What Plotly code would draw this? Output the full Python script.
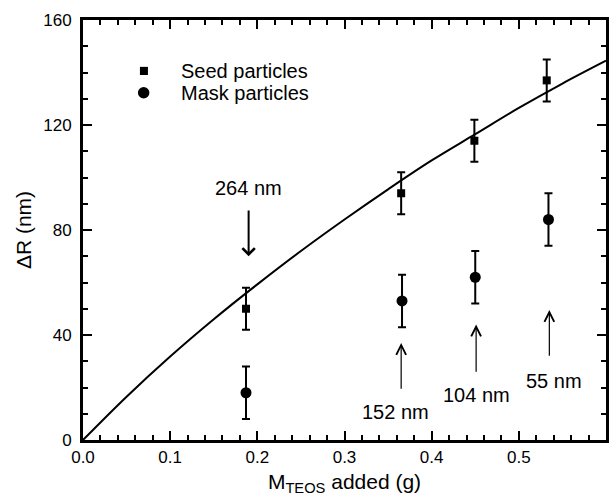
import plotly.graph_objects as go

# Data
seed_x = [0.187, 0.365, 0.449, 0.532]
seed_y = [50, 94, 114, 137]
seed_err = [8, 8, 8, 8]

mask_x = [0.187, 0.366, 0.450, 0.534]
mask_y = [18, 53, 62, 84]
mask_err = [10, 10, 10, 10]

fit_x = [0, 0.05, 0.1, 0.15, 0.2, 0.25, 0.3, 0.35, 0.4, 0.45, 0.5, 0.55, 0.6]
fit_y = [0, 16.5, 31.8, 46, 59.3, 72, 84, 95.5, 106.5, 116.5, 126.5, 135.8, 144.5]

# arrow annotations: label, arrow x, tail y, head y, text x, text y
arrow_labels = ["264 nm", "152 nm", "104 nm", "55 nm"]
arrow_x = [0.19, 0.365, 0.451, 0.535]
arrow_tail = [88, 19, 25.4, 31.5]
arrow_head = [70, 37, 44, 49.5]
text_x = [0.19, 0.359, 0.452, 0.540]
text_y = [96, 10.8, 17.1, 22.6]

# legend (drawn in data coordinates of the plot)
legend_names = ["Seed particles", "Mask particles"]
legend_sym_x = [0.0699, 0.0696]
legend_y = [140.6, 132.3]
legend_text_x = 0.1107

FONT = "Arial, Liberation Sans, sans-serif"

fig = go.Figure()
fig.add_trace(go.Scatter(x=fit_x, y=fit_y, mode="lines", line=dict(color="black", width=2, shape="spline"),
                         showlegend=False, hoverinfo="skip"))
fig.add_trace(go.Scatter(x=seed_x, y=seed_y, mode="markers", name=legend_names[0], showlegend=False,
                         marker=dict(symbol="square", size=8, color="black"),
                         error_y=dict(type="data", array=seed_err, color="black", thickness=2, width=4)))
fig.add_trace(go.Scatter(x=mask_x, y=mask_y, mode="markers", name=legend_names[1], showlegend=False,
                         marker=dict(symbol="circle", size=11, color="black"),
                         error_y=dict(type="data", array=mask_err, color="black", thickness=2, width=4)))

# manual legend
sq_dx, sq_dy = 0.0046, 1.55
ci_dx, ci_dy = 0.0066, 2.2
fig.add_shape(type="rect", xref="x", yref="y",
              x0=legend_sym_x[0] - sq_dx, x1=legend_sym_x[0] + sq_dx,
              y0=legend_y[0] - sq_dy, y1=legend_y[0] + sq_dy,
              fillcolor="black", line=dict(width=0))
fig.add_shape(type="circle", xref="x", yref="y",
              x0=legend_sym_x[1] - ci_dx, x1=legend_sym_x[1] + ci_dx,
              y0=legend_y[1] - ci_dy, y1=legend_y[1] + ci_dy,
              fillcolor="black", line=dict(width=0))
for name, ly in zip(legend_names, legend_y):
    fig.add_annotation(x=legend_text_x, y=ly, xref="x", yref="y", text=name, showarrow=False,
                       xanchor="left", yanchor="middle", font=dict(family=FONT, size=20, color="black"))

for i, lab in enumerate(arrow_labels):
    thick = i == 0
    fig.add_annotation(x=arrow_x[i], y=arrow_head[i], ax=arrow_x[i], ay=arrow_tail[i],
                       xref="x", yref="y", axref="x", ayref="y", text="", showarrow=True,
                       arrowhead=4 if thick else 5, arrowsize=1.2 if thick else 1.6,
                       arrowwidth=2 if thick else 1.2, arrowcolor="black", font=dict(size=1))
    fig.add_annotation(x=text_x[i], y=text_y[i], xref="x", yref="y", text=lab, showarrow=False,
                       font=dict(family=FONT, size=20, color="black"))

axis_common = dict(showgrid=False, zeroline=False, showline=True, linecolor="black", linewidth=3,
                   mirror="ticks", ticks="inside", tickcolor="black", tickwidth=2, ticklen=9,
                   tickfont=dict(family=FONT, size=17, color="black"))

fig.update_xaxes(range=[0, 0.6], dtick=0.1, tick0=0, tickformat=".1f",
                 minor=dict(dtick=0.02, ticks="inside", ticklen=5, tickwidth=2, tickcolor="black"),
                 title=dict(text="M<sub>TEOS</sub> added (g)", font=dict(family=FONT, size=21, color="black"), standoff=8),
                 ticklabelstandoff=0, **axis_common)
fig.update_yaxes(range=[0, 160], dtick=40, tick0=0,
                 minor=dict(dtick=10, ticks="inside", ticklen=5, tickwidth=2, tickcolor="black"),
                 title=dict(text="ΔR (nm)", font=dict(family=FONT, size=21, color="black"), standoff=6),
                 ticklabelstandoff=5, **axis_common)

fig.update_layout(width=616, height=497, margin=dict(l=83, r=7, t=20, b=57),
                  plot_bgcolor="white", paper_bgcolor="white", showlegend=False)

fig.write_html("out.html", config={"displayModeBar": False},
               post_script="document.body.style.margin='0';")
